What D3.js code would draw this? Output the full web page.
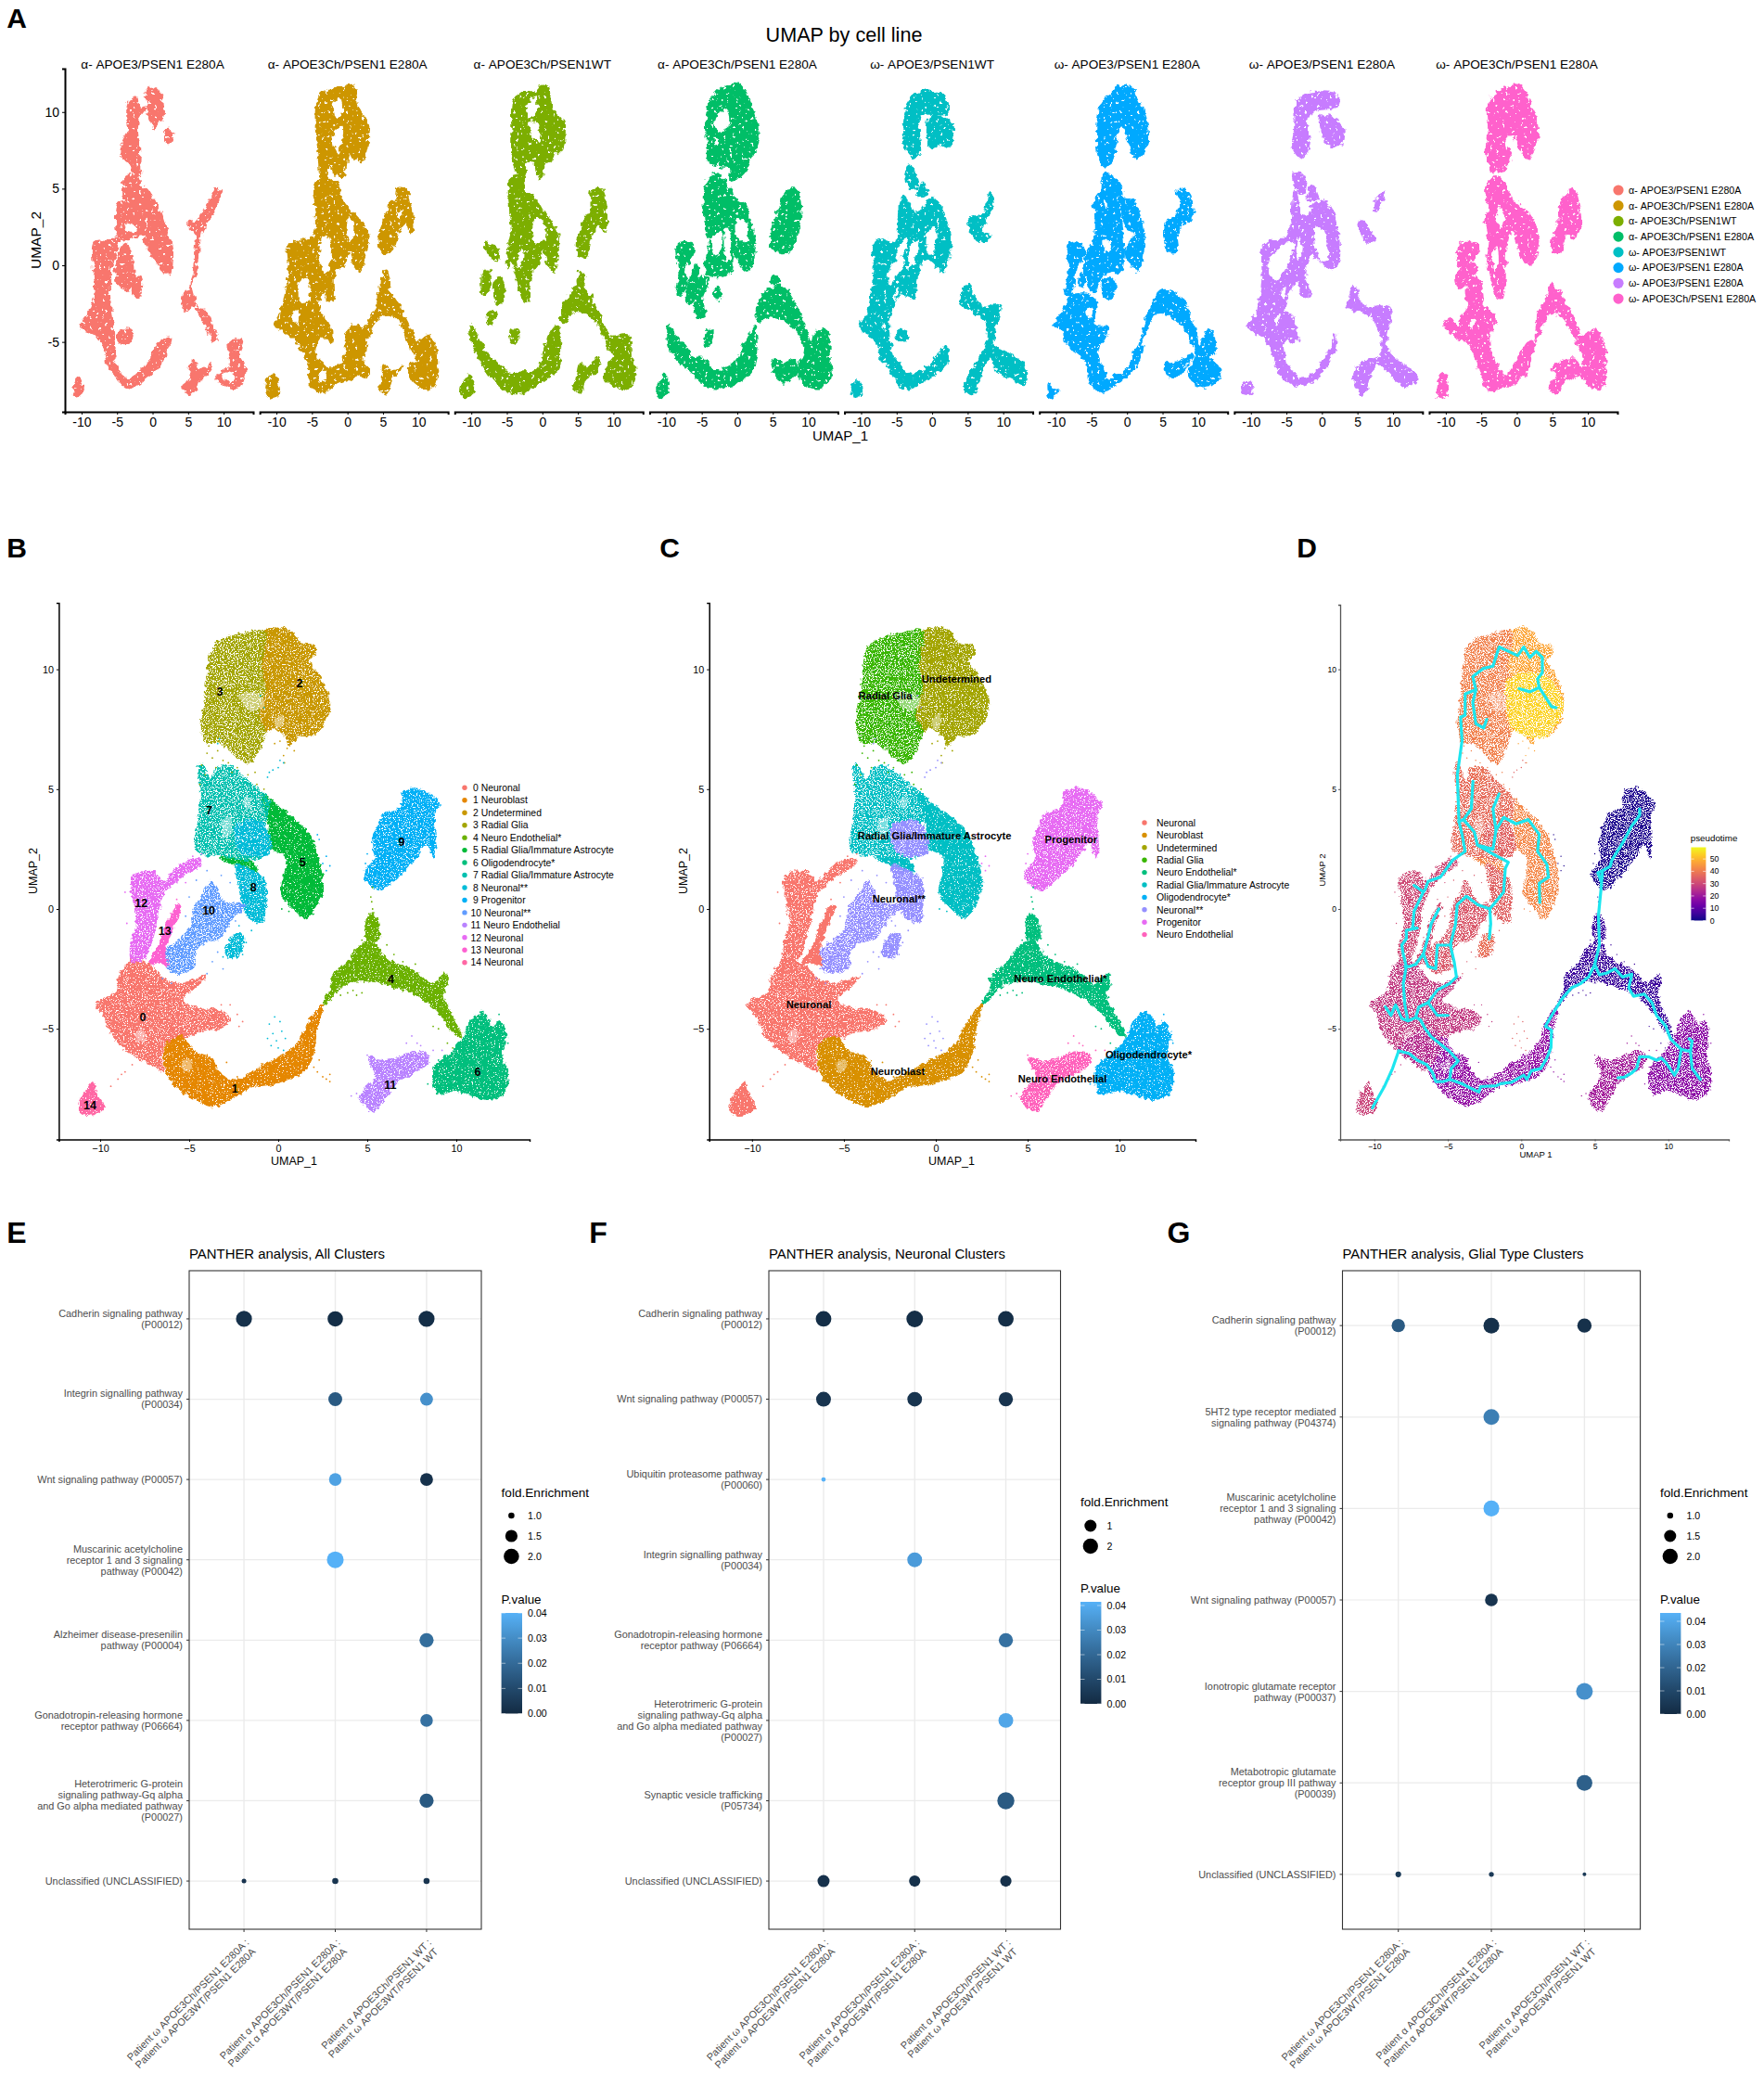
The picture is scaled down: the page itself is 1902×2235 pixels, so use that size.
<!DOCTYPE html>
<html><head><meta charset="utf-8">
<script src="https://cdn.jsdelivr.net/npm/d3@7"></script>
<style>
html,body{margin:0;padding:0;background:#fff}
svg{display:block}
text{font-family:"Liberation Sans",Arial,sans-serif}
</style></head><body>
<svg id="fig" width="1902" height="2235" viewBox="0 0 1902 2235"></svg>
<script>
/* ---------- categories ---------- */
const facetTitles=["α- APOE3/PSEN1 E280A","α- APOE3Ch/PSEN1 E280A","α- APOE3Ch/PSEN1WT","α- APOE3Ch/PSEN1 E280A","ω- APOE3/PSEN1WT","ω- APOE3/PSEN1 E280A","ω- APOE3/PSEN1 E280A","ω- APOE3Ch/PSEN1 E280A"];
const facetColors=["#F8766D","#CD9600","#7CAE00","#00BE67","#00BFC4","#00A9FF","#C77CFF","#FF61CC"];
const clusterLabels=["0 Neuronal","1 Neuroblast","2 Undetermined","3 Radial Glia","4 Neuro Endothelial*","5 Radial Glia/Immature Astrocyte","6 Oligodendrocyte*","7 Radial Glia/Immature Astrocyte","8 Neuronal**","9 Progenitor","10 Neuronal**","11 Neuro Endothelial","12 Neuronal","13 Neuronal","14 Neuronal"];
const clusterColors=["#F8766D","#E58700","#C99800","#A3A500","#6BB100","#00BA38","#00BF7D","#00C0AF","#00BCD8","#00B0F6","#619CFF","#B983FF","#E76BF3","#FD61D1","#FF67A4"];
const cellTypes=["Neuronal","Neuroblast","Undetermined","Radial Glia","Neuro Endothelial*","Radial Glia/Immature Astrocyte","Oligodendrocyte*","Neuronal**","Progenitor","Neuro Endothelial"];
const cellColors=["#F8766D","#D89000","#A3A500","#39B600","#00BF7D","#00BFC4","#00B0F6","#9590FF","#E76BF3","#FF62BC"];
const clusterCell=[0,1,2,3,4,5,6,5,7,8,7,9,0,0,0];
const clusterPseudotime=[27,18,47,41,5,42,17,37,35,1.5,33,21,30,31,29];
const clusterSpeckle=[2,1,2,3,1,1,1,3,2,2,3,2,2,0,1];

const outline3=[[-4.3,7.55],[-4.12,8.8],[-4,9.69],[-3.77,10.75],[-3.3,11.2],[-2.14,11.46],[-0.74,11.6],[-0.93,10.2],[-0.74,9.15],[-1.1,8.1],[-0.74,7.37],[-1.33,6.3],[-1.67,6.04],[-2.37,6.4],[-3.3,6.93],[-4,6.93]];
const outline2=[[-0.74,11.6],[0.19,11.73],[0.77,11.6],[1.23,11.1],[2.05,10.98],[2.05,10.6],[1.7,10.4],[2.28,9.78],[2.86,8.8],[2.86,8.26],[2.28,7.46],[1.7,7.2],[1.23,7.28],[0.65,6.84],[0.42,7.2],[-0.28,7.55],[-0.74,7.37],[-1.1,8.1],[-0.74,9.15],[-0.93,10.2]];
const outline7=[[-3.77,5.42],[-3.42,5.86],[-2.72,5.95],[-1.67,5.33],[-0.51,4.53],[-0.74,3.47],[-0.51,2.4],[-1.67,2.04],[-3.3,2.22],[-4.58,2.4],[-4.47,3.82],[-4.35,4.89],[-4.5,5.78],[-4.37,6.1]];
const outline8a=[[-2.37,3.47],[-0.98,3.64],[-0.4,2.58],[-0.74,2.22],[-2.14,2.4]];
const outline8b=[[-2.37,1.87],[-1.44,1.6],[-0.74,1.15],[-0.74,-0.09],[-0.86,-0.53],[-1.67,-0.36],[-2,0.27],[-2.26,1.15]];
const outline8c=[[-2.49,-1.07],[-2,-1.07],[-2.14,-1.87],[-2.6,-2.04],[-2.95,-1.87]];
const outline5=[[-0.98,4.8],[0.19,4.18],[1.12,3.64],[1.81,3.02],[2.28,2.04],[2.5,0.98],[2.16,0.18],[1.58,-0.41],[0.88,0],[0.19,0.62],[0.42,1.69],[0.42,2.22],[-0.51,2.58],[-0.51,3.47]];
const outline5b=[[-3.3,2.13],[-1.5,2],[-1.2,1.55],[-2.3,1.8]];
const outline12=[[-8.19,1.33],[-7,1.55],[-6.42,1.15],[-5.6,1.78],[-4.47,2.13],[-4.35,1.87],[-5.28,1.42],[-6.44,0.62],[-6.79,-0.27],[-7.02,-1.16],[-7.49,-2.04],[-8.19,-2.22],[-8.3,-1.51],[-7.95,-0.62]];
const outline13=[[-5.63,0.18],[-5.47,0.12],[-5.98,-0.89],[-6.33,-1.69],[-6.21,-2.4],[-6.67,-2.22],[-7.26,-2.31],[-6.67,-1.51],[-6.21,-0.53]];
const outline10=[[-3.77,1.16],[-3.3,0.62],[-2.95,0.27],[-1.9,0.18],[-2.6,-0.44],[-3.3,-1.24],[-4.23,-1.42],[-4.7,-1.87],[-4.7,-2.4],[-5.4,-2.67],[-6.1,-2.58],[-6.44,-1.87],[-5.63,-1.33],[-4.93,-0.8],[-4.7,0.09],[-4.23,0.62]];
const outline0=[[-8.19,-2.04],[-7.26,-2.31],[-6.33,-2.93],[-5.4,-3.11],[-4.07,-2.79],[-4.7,-3.29],[-5.4,-3.82],[-4.23,-4.18],[-3.53,-4.18],[-2.72,-4.62],[-3.3,-4.98],[-4.47,-5.15],[-5.4,-5.42],[-6.33,-5.6],[-6.56,-6.13],[-6.44,-6.75],[-7.14,-6.49],[-8.42,-5.95],[-9.35,-5.24],[-9.81,-4.44],[-10.28,-4],[-9.81,-3.73],[-9.12,-3.47],[-9,-2.93],[-8.42,-2.22]];
const outline1=[[-6.33,-5.69],[-5.4,-5.33],[-4.7,-5.95],[-3.77,-6.22],[-3.3,-6.84],[-2.49,-7.16],[-0.74,-6.49],[0.19,-6.13],[1.12,-5.6],[1.7,-4.71],[2.51,-3.96],[2.16,-5.06],[1.93,-6.13],[1.35,-6.84],[-0.28,-7.29],[-1.67,-7.46],[-2.6,-7.91],[-3.77,-8.23],[-5.16,-7.73],[-5.98,-7.2],[-6.33,-6.66]];
const outline4=[[2.51,-3.96],[2.98,-3.29],[2.98,-2.84],[3.91,-2.22],[4.37,-1.69],[5.3,-1.33],[6,-2.04],[7.63,-2.58],[8.56,-3.11],[8.9,-3.02],[9.37,-2.67],[9.49,-3.11],[9.26,-3.55],[9.72,-4.35],[10.3,-5.33],[9.84,-5.15],[9.02,-4.35],[8.09,-3.73],[6.7,-3.29],[5.3,-3.02],[4.37,-3.02],[3.44,-3.29],[2.86,-3.82]];
const outline4b=[[4.95,-1.24],[5.07,-0.27],[5.42,-0.27],[5.65,-1.24]];
const outline6=[[10.42,-5.33],[10.77,-4.71],[11.47,-4.27],[12.05,-4.89],[12.4,-4.71],[12.79,-5.24],[12.56,-6.13],[12.93,-6.84],[12.63,-7.73],[11.81,-7.95],[10.65,-7.73],[9.95,-7.55],[9.02,-7.73],[8.67,-7.02],[8.9,-6.49],[9.49,-6.13]];
const outline11=[[5.07,-6.22],[5.88,-6.34],[6.7,-6.22],[7.63,-5.95],[8.33,-6.04],[8.44,-6.4],[7.63,-6.84],[6.7,-7.2],[6,-7.91],[5.42,-8.44],[4.6,-7.91],[4.84,-7.55],[5.42,-7.02]];
const outline9=[[4.84,1.51],[5.42,2.13],[5.3,2.75],[6,4],[6.81,4.18],[7.05,4.89],[7.86,5.03],[8.79,4.62],[9.02,4.32],[8.79,4],[8.84,2.58],[8.74,2.13],[8.33,2.75],[7.63,2.04],[6.7,1.33],[5.77,0.8],[4.95,1.16]];
const outline14=[[-10.4,-7.23],[-10.23,-7.64],[-9.81,-8.26],[-10.4,-8.58],[-11.07,-8.53],[-11.19,-8.09],[-10.84,-7.64]];
const clusterOutlines=[[0,outline0],[1,outline1],[2,outline2],[3,outline3],[4,outline4],[4,outline4b],[5,outline5],[5,outline5b],[6,outline6],[7,outline7],[8,outline8a],[8,outline8b],[8,outline8c],[9,outline9],[11,outline11],[10,outline10],[12,outline12],[13,outline13],[14,outline14]];
const sharedGaps=[[[-2.14,8.97],[-1.44,9.06],[-0.74,8.62],[-1.2,8.26],[-1.9,8.44]],[[-3.2,3.6],[-2.7,3.9],[-2.6,3.2],[-3,2.9]],[[-8,-5.2],[-7.6,-5],[-7.5,-5.5],[-7.9,-5.6]],[[-5.4,-6.4],[-4.9,-6.3],[-4.9,-6.7],[-5.3,-6.8]],[[-0.2,7.9],[0.2,8.1],[0.3,7.7],[-0.1,7.5]],[[-1.9,4.6],[-1.5,4.7],[-1.6,4.2],[-1.9,4.2]]];
const strayPoints=[[3,-4.3,6],[3,-4.1,5.6],[3,-4,6.5],[3,-3.7,6.3],[3,-3.4,6.6],[3,-3.1,6.2],[3,-2.8,6.1],[3,-2.3,5.9],[3,-1.7,5.6],[3,-1.3,5.7],[3,-1.2,5.2],[3,-0.8,5],[3,-4.4,5.2],[3,-3.9,6.8],[3,-2.6,5.7],[3,-3.5,5.9],
[2,0.3,6.4],[2,0.5,6.7],[2,0.6,7],[2,0.35,6.1],[2,0.9,6.6],[2,-0.2,6.9],[2,0.1,7],
[8,-0.5,5.7],[8,-0.3,5.8],[8,0,5.9],[8,0.3,6.1],[8,-0.6,5.5],[8,0.1,6.2],[8,-3.3,7.1],[8,-3.4,6.9],[8,-1,8.9],[8,-0.8,8.4],[8,-0.5,-4.8],[8,-0.2,-4.5],[8,0.1,-4.7],[8,-0.3,-5.2],[8,0.2,-5.1],[8,-0.1,-5.5],[8,0.4,-5.4],[8,-0.4,-5.7],[8,0,-5.8],[8,0.3,-5.9],[8,-0.6,-5.4],[8,-2,-1.9],[8,-1.8,-1.4],[8,-1.5,-0.9],[8,-1.2,-0.6],[8,-2.2,-0.7],[8,-3.1,-2],
[9,2.2,3.1],[9,2.7,2.2],[9,2.9,1.8],[9,2.5,1.9],[9,2.3,2.9],[9,2.7,1.6],[9,4.9,1.9],[9,5,2.3],
[10,-5,0.5],[10,-5.2,-0.3],[10,-3.4,-1.8],[10,-3.7,-2.2],[10,-3.1,-2.5],[10,-4,-2.7],[10,-2.4,-0.5],[10,-2.7,1.1],[10,-3.2,1.4],[10,-4,1.6],[10,-4.6,1.2],[10,-6.5,-2.9],[10,-6,-3.1],[10,-1.9,0.9],[10,-3.5,-0.9],
[11,7.5,-5.3],[11,7.8,-5.6],[11,8,-5.7],[11,9.2,-5.9],[11,7.2,-5.6],[11,8.7,-5.9],[11,4.1,-7.8],[11,4.4,-7.7],[11,5,-6.1],
[6,9,-6.3],[6,8.7,-6.6],[6,8.4,-7.3],[6,12.4,-4.4],[6,12.9,-5.6],
[4,5.2,0.5],[4,5.3,0],[4,5.1,-0.2],[4,5.4,-0.9],[4,5.6,-1.2],[4,6.1,-1.5],[4,4.4,-3.6],[4,3.9,-3.5],[4,4.2,-3.4],[4,6.5,-1.9],[4,7,-2.2],[4,7.7,-2.3],[4,8.7,-4.9],[4,9,-5],[4,5.3,0.9],[4,5.25,0.3],[4,5.5,-0.6],[4,4.7,-3.5],[4,4.7,-1.3],[4,3.5,-3.6],[4,9.5,-5.6],[4,9.8,-5.8],
[1,2.2,-6.8],[1,2.5,-7],[1,2.9,-7.2],[1,2.7,-7.1],[1,2,-6.6],[1,2.9,-6.9],[1,2.3,-6.3],[1,-2.9,-6.4],[1,-2.3,-7],
[0,-9.4,-7.4],[0,-9,-7.1],[0,-8.6,-6.8],[0,-8.2,-6.5],[0,-7.8,-6.2],[0,-8.8,-6.9],[0,-2.3,-4.4],[0,-2.7,-4],[0,-2.2,-4.9],[0,-3.2,-4],[0,-2,-4.7],
[12,-4.3,2.3],[12,-4.8,2.2],[12,-5.8,1.4],[12,-5.2,1.1],[12,-8.6,0.7],[12,-8.5,-0.6],[13,-5.7,0.4],[5,-0.2,2.6],[5,0.6,-0.1],[5,0.2,0]];
const clusterCentres=[[0,-7.6,-4.5],[1,-2.44,-7.5],[2,1.2,9.43],[3,-3.28,9.08],[4,6.33,-2.91],[5,1.37,1.97],[6,11.2,-6.8],[7,-3.88,4.12],[8,-1.4,0.9],[9,6.93,2.8],[10,-3.9,-0.05],[11,6.3,-7.34],[12,-7.7,0.25],[13,-6.37,-0.9],[14,-10.57,-8.19]];
const cellCentres=[["Undetermined",1.13,9.58],["Radial Glia",-2.75,8.92],["Radial Glia/Immature Astrocyte",-0.07,3.04],["Progenitor",7.36,2.9],["Neuronal**",-2,0.44],["Neuro Endothelial*",6.78,-2.91],["Neuronal",-6.91,-3.98],["Neuroblast",-2.07,-6.79],["Oligodendrocyte*",11.58,-6.08],["Neuro Endothelial",6.89,-7.09]];

/* ---------- panel D pseudotime patches and trajectory ---------- */
const pseudoPatches=[[54,[[-0.9,9.6],[1.4,9.8],[2.8,8.8],[2.8,8.2],[1.7,7.2],[0.4,7.2],[-0.6,7.6]]],[24,[[-8.4,-5.9],[-6.5,-5],[-5.4,-5.4],[-6.4,-6.7],[-7.1,-6.5]]],[38,[[-3.4,5.9],[-2.7,5.95],[-2.2,5.4],[-3.1,5]]],[38,[[-2.49,-1.07],[-2,-1.07],[-2.14,-1.87],[-2.6,-2.04],[-2.95,-1.87]]]];
const trajectoryTail=[[-10.13,-8.3],[-9.29,-7.38],[-8.76,-6.66],[-8.34,-5.92]];
const trajectoryMain=[[-8.34,-5.92],[-7.61,-6.04],[-7.08,-6.31],[-6.45,-6.49],[-6.03,-6.84],[-5.82,-7.2],[-5.29,-7.2],[-4.87,-7.11],[-4.03,-7.29],[-3.51,-7.46],[-2.88,-7.64],[-2.77,-7.41],[-1.72,-7.38],[-1.41,-7.29],[-0.67,-7.23],[0.17,-6.93],[0.38,-7.11],[0.69,-6.75],[1.32,-6.66],[1.74,-6.22],[2.02,-5.78],[2.06,-5.06],[1.64,-4.89],[2.16,-4.35],[2.79,-3.73],[3.42,-3.29],[4.05,-3.11],[4.37,-2.93],[4.58,-2.84],[5,-2.31]];
const trajectoryStem=[[5,-2.31],[5.31,-1.51],[5.25,-0.27],[5.42,0.8],[5.53,1.6],[5.21,1.51],[5.42,1.16],[5.53,1.6],[6.05,1.78],[6.16,2.04],[6.89,2.75],[7.52,3.47],[8.05,3.91],[8.05,4.18]];
const trajectoryArch=[[5,-2.31],[5.31,-2.75],[5.84,-2.67],[6.37,-2.49],[6.89,-2.84],[7.52,-2.72],[7.31,-3.29],[7.63,-3.64],[8.36,-3.55],[8.89,-3.91],[9.2,-4.44],[9.83,-4.89],[10.15,-5.42],[10.88,-5.86],[10.67,-6.66],[10.42,-6.93]];
const trajectoryOligoA=[[10.88,-5.86],[11.51,-5.95],[11.62,-5.51],[11.41,-5.42]];
const trajectoryOligoB=[[11.51,-5.95],[11.62,-6.66],[12.18,-7.11]];
const trajectoryEndo=[[10.42,-6.93],[9.83,-6.4],[9.52,-6.22],[9.2,-6.31],[8.68,-6.17],[8.05,-6.17],[7.84,-6.66],[7.52,-6.84],[7,-7.02],[6.58,-7.05]];
const trajectoryNeuronA=[[-4.87,-7.11],[-4.77,-6.66],[-4.29,-6.34],[-4.87,-5.95],[-5.4,-5.69],[-6.13,-5.33],[-6.55,-4.98],[-6.87,-4.62],[-7.18,-4.53],[-7.71,-4.67],[-8.13,-4.57],[-8.55,-4],[-8.87,-4.44],[-9.24,-4.09]];
const trajectoryNeuronB=[[-7.71,-4.67],[-7.92,-4],[-8.03,-3.11],[-7.82,-2.4],[-8.03,-1.87],[-8.13,-1.51],[-7.82,-1.24],[-7.82,-0.89],[-7.08,-0.8],[-7.39,-0.8],[-7.29,-0.09],[-6.66,0.71],[-7.29,0.98]];
const trajectoryNeuronC=[[-7.92,-2.4],[-7.61,-2.4],[-7.18,-2.31],[-6.66,-1.87],[-6.34,-2.4],[-5.82,-2.49],[-5.71,-1.51],[-4.77,-1.51]];
const trajectoryNeuronD=[[-6.66,-1.87],[-6.34,-1.16],[-6.13,-0.62],[-5.61,0]];
const trajectoryNeuronE=[[-7.18,-4.53],[-6.97,-4.09],[-6.34,-3.91],[-5.71,-3.38],[-4.87,-3.11],[-4.41,-2.84],[-4.56,-2.22],[-4.83,-1.51],[-4.47,-0.62],[-4.36,0.18],[-3.73,0.53],[-2.98,0.18],[-2.14,0],[-2.08,-0.62],[-2.18,-1.24]];
const trajectoryNeuronF=[[-6.34,-3.91],[-5.71,-4.44],[-4.98,-4.44]];
const trajectoryGliaA=[[-2.14,0],[-1.2,0.71],[-1.09,1.69],[-0.88,1.95],[-1.72,2.22],[-2.98,2.67],[-3.19,3.2],[-3.93,3.73],[-4.24,3.64],[-4.03,3.11],[-3.82,2.4],[-4.66,2.04],[-5.5,1.33],[-6.34,1.15],[-6.55,0.8],[-6.66,0.71]];
const trajectoryGliaB=[[-3.93,3.73],[-3.4,4.18],[-3.29,5.33]];
const trajectoryTop=[[-4.24,3.64],[-4.35,5.6],[-4.03,7.02],[-4.13,8],[-3.82,8.09],[-3.82,8.97],[-3.09,9.15],[-3.3,9.69],[-2.57,10.04],[-1.93,10.13],[-1.51,10.93],[-0.25,10.57],[0.17,10.93],[0.59,10.49],[1.01,10.75],[1.43,10.49],[1.43,9.86],[1.11,9.6],[1.22,9.24],[2.06,8.44],[2.37,8.4]];
const trajectoryTopB=[[1.22,9.24],[0.59,9.06],[-0.15,9.19]];
const trajectoryTopC=[[-3.09,9.15],[-3.3,8.62],[-3.09,7.73],[-2.56,7.55],[-2.35,7.91]];
const trajectoryAstroA=[[-2.98,2.67],[-1.93,2.49],[-1.72,3.29],[-1.93,4.18],[-1.51,4.8]];
const trajectoryAstroB=[[-1.72,3.29],[-1.2,3.82],[-0.36,3.55],[0.48,3.73],[1.22,3.11],[1.11,2.4],[1.74,1.87],[1.85,1.33],[1.22,1.07],[1.26,0.27]];
const trajectories=[trajectoryTail,trajectoryMain,trajectoryStem,trajectoryArch,trajectoryOligoA,trajectoryOligoB,trajectoryEndo,trajectoryNeuronA,trajectoryNeuronB,trajectoryNeuronC,trajectoryNeuronD,trajectoryNeuronE,trajectoryNeuronF,trajectoryGliaA,trajectoryGliaB,trajectoryTop,trajectoryTopB,trajectoryTopC,trajectoryAstroA,trajectoryAstroB];

/* ---------- panel A per-facet outlines ---------- */
const facet1Blobs=[[[-3.4,10.5],[-2.5,10.9],[-1.5,10.9],[-0.6,11.5],[0.6,11.5],[1.4,10.6],[1.2,9.5],[0.3,9],[-0.4,9.6],[-0.9,10.2],[-1.6,9.9],[-2.2,9],[-1.9,7.6],[-2,6.7],[-1.8,5.9],[-2.4,6],[-3.2,6.7],[-4.3,7],[-4.2,8],[-3.3,8.8],[-3.5,9.5]],[[2.1,8.9],[2.8,8.6],[2.4,8],[1.7,8.1]],[[-3.8,5.8],[-2.2,5.8],[-2,5],[-3.3,4.2],[-3.8,4.2]],[[-4.6,4.1],[-3.4,4.2],[-1.6,5.2],[-0.3,4.6],[1,3.6],[2.1,2],[2.7,1.3],[2.4,-0.4],[1.7,-0.5],[0.2,0.5],[-1.2,1.5],[-0.8,2],[-2.3,1.9],[-3.6,1.7],[-4.7,2]],[[-8.1,1.5],[-5.5,1.6],[-4.7,2],[-5,1],[-5.9,-0.2],[-6.1,-2],[-5.7,-3.5],[-5.5,-5],[-5.3,-6],[-6,-6.2],[-7,-5.2],[-8,-4.5],[-10.2,-4],[-8.8,-3],[-8,-1.5],[-8.3,0]],[[-4.4,1],[-3.8,1.4],[-3,0.6],[-2.9,-1],[-3.6,-1.6],[-5,-1.1],[-5.1,0]],[[-2.8,-0.7],[-1.8,-0.8],[-2,-2],[-2.8,-1.8]],[[-4.8,-4.3],[-3,-4.3],[-3.2,-5],[-4.6,-5]],[[-6,-6.2],[-5.2,-6.4],[-4.4,-7.2],[-3.5,-7.4],[-1.8,-7],[-0.2,-6.1],[0.6,-5.3],[2.2,-4.7],[2,-5.5],[0.8,-6.5],[-1,-7.4],[-3.5,-8],[-5,-7.3],[-6.5,-6.3]],[[-11.2,-8.3],[-10.4,-7.4],[-9.9,-8.3],[-10.6,-8.6]],[[9.5,4.8],[8.9,4.9],[7.9,4],[6,2.8],[5.2,2.9],[5.1,2.7],[6.2,2],[6,0.9],[5.8,-0.5],[5.2,-1.6],[4.4,-1.8],[4.6,-3],[5.8,-2.4],[5.5,-1.4],[6.3,0],[6.6,1.7],[7,2.4],[8.7,3.6]],[[5.8,-2.4],[7.2,-3.6],[8.5,-4.9],[9.1,-4.8],[8.5,-4.2],[7.3,-2.9],[6.8,-2.9]],[[5.6,-6.2],[6.6,-6.8],[8.4,-6.5],[6.9,-7.5],[5.8,-8.2],[5,-8.4],[4.3,-7.9],[5.2,-7.5]],[[10.8,-5],[12.6,-4.9],[12,-5.9],[13,-6.8],[12,-8],[10,-7.8],[9,-7.3],[11,-6.5]]];
const facet1Gaps=[[[-2,11],[-0.9,10.9],[-0.8,10.5],[-1.6,10.3]],[[9.9,-7],[11.2,-7],[11.4,-7.6],[10.4,-7.5]],[[-4,2.7],[-2.5,2.6],[-2.4,2.2],[-3.6,2.2]]];
const facet2Blobs=[[[-4,10.9],[-2.8,11.4],[-1.4,11.5],[-0.3,11.7],[0.8,11.7],[1.4,10.3],[2.5,9.5],[2.9,8.3],[2.6,7.3],[1.9,6.7],[1.4,7.2],[1.1,6.8],[0.2,7.4],[-0.4,6.2],[-0.9,5.7],[-1.7,6],[-2.6,6.6],[-2.9,5.7],[-3.6,5.6],[-4,7]],[[-4.3,5.4],[-3,5.6],[-1.5,5.3],[-0.8,4.3],[0.6,3.5],[2.4,2.5],[2.9,1.6],[2.3,0.5],[1.7,-0.4],[1,0],[0.2,1.2],[-0.5,0],[-1.8,-0.3],[-2.1,-2.2],[-2.8,-2.3],[-3.2,-1.6],[-4.2,-2.4],[-3.6,-3.2],[-2.2,-4.3],[-2.4,-5],[-3.6,-4.6],[-4.6,-5.3],[-4.5,-6.5],[-5.4,-6.4],[-7,-5],[-10.1,-3.9],[-9.5,-3.3],[-8.7,-1.9],[-8.2,0],[-8.2,1.3],[-6.8,1.6],[-5.5,1.6],[-4.5,2.2]],[[-5,-6],[-3.8,-6.3],[-2.6,-6.8],[-1,-6.5],[-0.4,-6],[-0.2,-4.5],[1.2,-3.9],[2.6,-4.2],[2.2,-6],[1.8,-7],[-1.5,-7.7],[-3.5,-8.3],[-5,-7.9],[-5.4,-6.8]],[[1.9,-6.6],[2.8,-6.6],[2.7,-7.3],[2,-7.2]],[[2.4,-4.8],[3,-3.6],[4.2,-2.7],[4.5,-1.6],[5.3,-1.5],[6.6,-2.2],[7.8,-3.2],[9,-4.3],[9.7,-5],[11.4,-4.6],[12.2,-5.2],[12.5,-6.8],[12.6,-7],[12,-7.9],[10.5,-8],[8.9,-7.3],[8.8,-6.5],[9.8,-6.3],[8.5,-5],[7.5,-3.8],[6,-3.2],[4.2,-3.4],[3,-4.6]],[[5.1,-6.5],[6,-6.9],[7.8,-6.6],[6,-7.5],[5.6,-8.3],[4.7,-8.1],[5,-7.4]],[[7.2,5],[8.2,4.9],[8.9,3.6],[9,2.1],[8.2,3],[7.2,2.2],[6.2,1],[5,0.8],[4.6,1.5],[4.9,2.7],[6,3.8],[6.2,4.2],[6.9,4.2]],[[5.1,-0.4],[5.5,-0.4],[5.8,-1.4],[5,-1.5]],[[-11,-7.3],[-10.4,-7.2],[-9.7,-8.4],[-10.6,-8.6],[-11.3,-8.4]]];
const facet2Gaps=[[[-2,10.6],[-1,10.8],[-0.8,9.9],[-1.6,9.5]],[[-2,8.6],[-0.7,9.1],[-1.2,7.3],[-1.9,7.8]],[[-3.5,1.8],[-2.8,2],[-2.2,0.5],[-3.2,-0.6],[-4,0.6]],[[-6.6,-1],[-5.4,-0.9],[-5.8,-2.5],[-6.7,-2.4]],[[0.2,3.2],[1,2.5],[0.4,1.5],[-0.1,2.2]],[[-7.7,-3.2],[-7,-2.9],[-7,-3.9]],[[-4,-7.1],[-3,-6.9],[-2.9,-7.4],[-3.7,-7.5]],[[7,3.4],[7.6,3.6],[7.5,3]]];
const facet3Blobs=[[[-4,10.8],[-2.6,11.3],[-1,11.3],[-0.2,11.7],[0.6,11.7],[1.4,10.2],[2.9,9.3],[3,8.1],[2.4,7.4],[1.6,7.4],[1.1,6.8],[0.3,6.7],[0,5.8],[-0.6,5.7],[-1.1,6.8],[-2.2,6.7],[-2.8,5.7],[-4,6.6],[-4.2,8.8]],[[-4.4,5.7],[-2.9,5.8],[-2.5,4.7],[-1.5,4.6],[-0.2,3.6],[0.8,3.1],[2.1,2],[2.1,0.8],[1.6,-0.4],[0.7,0.2],[0.2,1.2],[-0.6,0.2],[-1.6,-0.5],[-2.2,-2.4],[-2.7,-2.2],[-3.5,-0.9],[-4.3,0.3],[-4.9,-0.2],[-4.7,1.3],[-4.3,2.2],[-4.5,3.5]],[[-8,1.5],[-6.2,0.9],[-6.4,0.3],[-7.6,0.8]],[[-8.3,-0.4],[-7.5,-0.4],[-7.6,-1.6],[-8.3,-1.9]],[[-6.6,-1],[-5.8,-0.8],[-5.6,-2.3],[-6.4,-2.5]],[[-7.6,-3.2],[-6.6,-3],[-7.4,-4]],[[-4.4,-4.2],[-3.7,-4.2],[-3.6,-5.1],[-4.3,-5]],[[-10,-3.9],[-9.2,-4.6],[-7.6,-5.9],[-6,-6.6],[-4.8,-7],[-3,-7],[-0.6,-6.8],[0.5,-5.2],[2.1,-4],[2.5,-5.3],[2,-6.8],[0,-7.6],[-3,-8.3],[-4.5,-8.3],[-7,-7.4],[-9,-6],[-10,-4.8]],[[2.7,-3.6],[3,-2.6],[4.3,-1.7],[4.9,-1.3],[6.3,-1.7],[7.5,-2.8],[9.5,-4.6],[11,-4.6],[12.2,-4.6],[12.4,-5.9],[13,-6.9],[12.2,-8],[10.5,-8],[8.8,-7.2],[9.4,-6.4],[10,-6],[9.2,-5.2],[7.8,-3.8],[6.1,-3.1],[4.2,-3],[3,-3.7]],[[5.4,-6.4],[6.1,-6.8],[8,-6],[7.8,-6.8],[6,-7.4],[5.4,-8.3],[4.3,-8],[4.9,-7.5]],[[7,4.9],[8,5],[8.9,3.6],[8.8,2.2],[8,2.7],[6.6,1.7],[6.1,0.6],[5.1,0.7],[4.9,1.5],[5.7,2.5],[5.9,3.2],[6.8,3.4]],[[5,-1.2],[5.4,-0.4],[5.8,-1.2]],[[-10.7,-7.3],[-10.2,-7.2],[-9.9,-8.4],[-11,-8.6],[-11.3,-8.3]]];
const facet3Gaps=[[[-2.1,10.5],[-0.9,11],[-0.9,10],[-1.8,9.6]],[[-2,9.4],[-0.6,9.2],[-0.5,8],[-1.4,8.4]],[[-1.3,2.7],[-0.5,3.1],[0.6,2],[-0.3,1.4],[-1.2,1.7]],[[-3.6,0.4],[-2.8,1.1],[-2.7,0.4],[-3.3,-0.2]]];
const facet4Blobs=[[[-2.6,11.35],[0,11.85],[1.3,11.15],[2.4,9.7],[2.96,8.5],[2.17,7.3],[0.43,5.8],[-1.1,5.6],[-0.87,6.3],[-3.9,6.7],[-4.13,7.9],[-4.13,10.1]],[[-2.96,6],[-1.3,5.1],[-0.2,4.3],[1.1,3.9],[1.96,2.5],[2.4,0.87],[1.5,-0.34],[0.2,0.27],[-0.43,0.67],[-1.3,-0.54],[-3.7,-0.65],[-4.56,-0.14],[-3.9,1.27],[-4.56,2.67],[-4.35,5.3]],[[-8.26,1.37],[-6.3,1.37],[-6.5,0.46],[-7.6,-0.34],[-7,-0.95],[-7.8,-1.85],[-8.5,-1.95],[-8,-0.55]],[[-5.9,-0.04],[-5.56,-0.14],[-6.5,-2.46],[-7,-2.36]],[[-4.8,-0.65],[-4.1,-0.95],[-5,-2.16],[-4.56,-3.37],[-5.65,-3.37],[-5.87,-1.75]],[[-2.83,-1.45],[-2.17,-1.85],[-2.83,-2.26],[-3.26,-1.85]],[[-4.13,-4.17],[-3.5,-4.27],[-4.13,-5.28],[-4.65,-5.08]],[[-9.56,-3.87],[-8.7,-4.58],[-7.4,-5.28],[-6.1,-5.99],[-5,-5.99],[-3.26,-6.9],[-0.43,-6.39],[1.3,-5],[2.4,-4.07],[2.4,-6.39],[0.87,-7.4],[-2.6,-8],[-4.56,-7.8],[-6.5,-6.9],[-8.26,-6.2],[-9.56,-5.2]],[[4.35,-1.55],[6.3,-1.35],[7.8,-2.26],[9.1,-3.37],[10.4,-4.98],[11.3,-4.27],[12.6,-4.37],[13,-6.4],[13,-7.4],[11.3,-8],[9.1,-7.6],[8.7,-6.6],[9.6,-5.4],[8.26,-4.2],[6.1,-3.5],[3.9,-3.37],[3.26,-3.67],[2.7,-3.17],[3.26,-2.26]],[[5,-6.1],[6.5,-6.4],[8,-6.2],[8.5,-6.9],[6.5,-7.6],[5.43,-7.2]],[[6.96,4.9],[8.26,5],[8.9,3.5],[8.5,2.08],[7.17,0.87],[5.43,0.87],[4.78,1.27],[5.43,3.1],[6.1,3.8]],[[4.78,-1.15],[5.2,-0.65],[5.87,-1.05],[5.2,-1.15]],[[-11.1,-7.8],[-10.2,-7.2],[-9.8,-8.2],[-10.9,-8.6]]];
const facet4Gaps=[[[-3,9.7],[-1.5,10.2],[-1.3,9],[-2.6,8.7]],[[0,3.1],[1.5,2.6],[1.1,1.5],[-0.2,2.1]],[[-3.5,1.9],[-2.2,2.1],[-2.4,0.87],[-3.26,0.67]],[[-3.2,8.3],[-2.6,8.2],[-2.8,7.8]],[[-1.7,2.4],[-1.2,2.5],[-1.1,0.3],[-1.6,0.5]]];
const facet5Blobs=[[[-3.5,10.5],[-1.57,11.3],[1.9,10.9],[1.9,9.9],[-1.57,9.9],[-1.8,8.1],[-1.8,7.3],[-2.65,7.1],[-3.96,7.9],[-3.74,9.9]],[[-0.26,9.7],[2.57,9.3],[3,8.4],[2.57,7.8],[0.6,7.9],[-0.26,7.7]],[[-3.3,6.5],[-2.65,6.2],[-2.2,5.1],[-3.1,5],[-3.74,5.7]],[[-1.57,5.3],[-0.7,4.7],[-2,4.5]],[[-4.17,4.5],[-3.1,3.9],[-2.2,3.3],[0,4.4],[1.5,3.5],[2.57,1.67],[1.5,-0.44],[0,0.26],[-1.35,0.46],[-2.2,-0.95],[-2.65,-2.06],[-4.4,-1.85],[-5.9,-3.06],[-6.13,-4.58],[-5.7,-5.8],[-7,-6.3],[-7.87,-5],[-10.26,-3.97],[-9.17,-3.37],[-8.5,-1.75],[-8.1,0.26],[-8.3,1.27],[-7,1.67],[-5,1.47],[-4.83,2.48]],[[-4.8,-4.27],[-3.5,-4.37],[-3.7,-4.88],[-4.8,-4.78]],[[-6.8,-5.8],[-5.7,-6],[-3.1,-7.2],[-0.5,-6.6],[1.5,-5.4],[1.9,-5.4],[1.9,-6.4],[0,-7.2],[-3.5,-8],[-4.6,-7.8],[-5.7,-7]],[[5,-1.35],[5.6,-1.95],[7.35,-2.76],[9.5,-2.56],[8.65,-4.4],[8.65,-5.2],[10.8,-5.8],[13,-6.6],[12.8,-7.8],[11.3,-7.4],[9.5,-7],[8,-6],[5.6,-8.4],[4.7,-8],[5.6,-6.8],[7.35,-5.6],[7.8,-4.8],[7.56,-3.57],[6,-3.07],[3.87,-2.36]],[[8.2,4.7],[8.65,3.9],[7.35,2.9],[6.9,2.1],[8.2,1.9],[7.35,1.57],[6.5,1.57],[5.17,2.9],[7.1,3.3],[7.8,4.2]],[[-11.35,-8.2],[-10.9,-7.6],[-10.26,-7.7],[-9.83,-8.3],[-10.9,-8.5]]];
const facet5Gaps=[[[-5,1],[-3.5,1.9],[-3.4,1.3],[-4.8,0.4]],[[-6.2,-0.4],[-4,0.6],[-4,0.1],[-6,-1.3]],[[-3,1.3],[-2,1.6],[-2.5,0.3],[-3.3,-0.3]],[[-0.5,2.3],[0.4,2.5],[0.17,0.67],[-0.7,0.87]],[[-7,-3.9],[-6.6,-3.7],[-6.6,-4.3]],[[-5.4,-1.9],[-4.8,-1.4],[-5.1,-2.2]]];
const facet6Blobs=[[[-3.5,10.55],[-0.26,11.8],[0.83,11.35],[2.8,9.1],[2.8,7.9],[1.26,7],[0.17,8.1],[-0.7,9.2],[-1.56,8.3],[-2,6.9],[-3.3,6.5],[-3.96,7.1],[-4.17,8.7]],[[-3.3,6],[-0.9,5.2],[-0.9,2.7],[-0.5,0.67],[-1.13,-0.54],[-2.2,-0.34],[-3.74,-0.95],[-4.8,-1.75],[-5.9,0.26],[-4.4,2.08],[-4.4,4.3],[-3.5,4.9]],[[-0.5,4.3],[0.83,4.2],[2.13,2.28],[2.13,0.46],[1.48,-0.34],[-0.26,0.87],[1.04,2.08],[0,2.48]],[[-8.1,1.37],[-6.35,1.37],[-6.13,0.67],[-7.2,-0.14],[-7.87,-1.95],[-8.5,-1.95],[-8.1,-0.14]],[[-5.7,0.16],[-5.5,-0.34],[-6.35,-1.35],[-6.8,-1.15]],[[-3.3,-1.05],[-1.78,-0.95],[-2.2,-2.06],[-3.1,-2.06]],[[-7.2,-1.85],[-4.4,-2.36],[-4.6,-3.97],[-2.65,-4.07],[-3.3,-4.78],[-4.4,-5.8],[-3.3,-6.8],[-2.87,-7.4],[-0.26,-6.9],[1.48,-5.4],[2.13,-4.6],[1.7,-6.1],[0.17,-7.1],[-3.74,-8.2],[-5.26,-7.6],[-5.5,-6.6],[-6.6,-5.8],[-8.6,-5.1],[-8.8,-4.2],[-10.26,-4],[-9.17,-3.2]],[[2.13,-4.6],[3,-3.17],[3.4,-2.57],[5,-1.65],[7.65,-2.16],[8.87,-3.37],[10.2,-5.2],[11.5,-4.2],[12.4,-5.6],[11.3,-5.9],[13,-6.7],[12.6,-7.5],[11.1,-7.9],[9.4,-7.6],[8.65,-7],[9.7,-5.9],[8,-3.97],[5.4,-3.17],[3.65,-3.27],[2.56,-4.37]],[[5.4,-6.5],[7.13,-6.3],[9.3,-5.9],[8.4,-6.5],[6.7,-7.3],[5.6,-7.1]],[[7.13,4.9],[8.4,4.7],[9.1,3.1],[8.2,2.9],[6.9,2.08],[6.9,0.97],[5.83,0.97],[5.4,2.68],[6.9,3.2],[7.56,4.1]],[[-11.1,-7.7],[-10.26,-8.2],[-9.6,-8.2],[-10.9,-8.57]]];
const facet6Gaps=[[[-3.4,4.1],[-3,4.3],[-3,3.7]],[[-3.2,1.6],[-2.3,1.4],[-2.5,0.9],[-3,1]],[[-5.6,-3],[-5,-2.8],[-5.2,-3.5]],[[-1.7,-4.8],[-1,-5],[-1.5,-5.6],[-2.6,-6.2],[-2.9,-5.6]]];
const facet7Blobs=[[[-3.35,10.75],[-1.17,11.25],[2.3,11.05],[2.1,10.35],[-1.17,10.1],[-2.26,9.4],[-1.8,8.1],[-2.26,7.2],[-2.9,7],[-4,7.7],[-3.8,8.9]],[[-0.1,9.7],[1.87,9.5],[3,8.7],[2.7,7.9],[0.8,7.9],[0.13,8.6]],[[-4,6],[-2.7,5.8],[-2.5,4.8],[-3.35,4.8]],[[-1.4,5.1],[-0.74,4.4],[-2,4.3]],[[-3.8,4.8],[-2.5,3.1],[-0.74,4.1],[1,3.9],[2.1,2.28],[2.3,0.26],[1.43,-0.24],[-0.1,0.26],[-1.4,0.77],[-2.5,-0.54],[-1.8,-1.95],[-2.7,-1.95],[-3.35,-0.95],[-4.2,-1.35],[-5.3,-2.96],[-4.65,-3.17],[-3.8,-4.58],[-5.5,-5],[-5.3,-6.4],[-6.4,-6.2],[-7.5,-5],[-10.3,-4],[-9.2,-3.2],[-8.35,-0.95],[-8.1,1.27],[-6.4,1.67],[-5,1.77],[-4.2,3.1]],[[-6.6,-6.1],[-5.1,-6.4],[-3.35,-7.4],[-1.17,-7.1],[0.78,-5.8],[1.87,-4.5],[1.87,-5.2],[0.56,-6.6],[-1.17,-7.5],[-3.8,-7.8],[-5.74,-7.2]],[[-4.6,-4.6],[-3.4,-4.7],[-3.9,-5.1],[-4.6,-4.9]],[[4.5,-1.35],[6,-2.76],[9.5,-2.76],[9,-4.8],[9.26,-5.6],[11,-6.4],[13.17,-7.2],[12.7,-7.8],[11.2,-7.8],[9.9,-7.2],[7.7,-6.4],[5.8,-8.4],[4.7,-7.8],[5.1,-6.6],[7.1,-6.1],[8.4,-5.8],[7.7,-3.8],[6.4,-3.07],[3.6,-2.76],[4,-1.95]],[[7.5,4.1],[8.8,4.8],[7.9,3.7],[7.5,3.7]],[[5.3,2.9],[6.4,2.5],[7.3,1.67],[6.65,1.47],[5.8,1.87]],[[-11.2,-8],[-10.5,-7.6],[-9.9,-7.7],[-9.9,-8.3],[-11,-8.4]]];
const facet7Gaps=[[[-5.74,1.27],[-4.2,1.57],[-4.4,0.46],[-6.4,-0.95],[-7.7,-0.14]],[[-0.96,2.38],[-0.1,2.48],[0.78,0.26],[-0.1,0.26],[-0.96,1.27]],[[-6.6,-3.5],[-6,-3.2],[-6.2,-4.1]],[[-3.3,1.8],[-2.7,1.2],[-3.2,0.4],[-3.6,1]],[[-5.7,-1.6],[-5.1,-1.3],[-5.4,-2.3]]];
const facet8Blobs=[[[-3.7,10.8],[0.1,11.7],[1.6,10.8],[2.9,9],[2.4,7.6],[1.3,7],[-0.5,8.4],[-1.65,8.4],[-1,6.8],[-3.1,6.1],[-4.2,7.2],[-3.9,9.2]],[[-2.8,5.8],[-1.35,5],[-0.5,4.2],[1.9,3.2],[3,2],[1.9,0.1],[0.7,0.5],[0.1,1.55],[-0.75,2.4],[-1.6,1.1],[-2,-2],[-2.8,-2.1],[-3.8,-0.25],[-4.2,0.2],[-3.9,1.6],[-4.4,3],[-3.8,3.8],[-4.3,5]],[[-8.1,1.35],[-6.6,1.45],[-5.4,1.35],[-6,0.55],[-8.1,-0.05]],[[-8.4,-0.5],[-6,0.1],[-5.7,-0.25],[-8.1,-1.5]],[[-6.9,-0.85],[-5.4,-0.95],[-5.1,-2.9],[-6.6,-2.7]],[[-7.2,-3],[-5.4,-2.7],[-4,-2.9],[-3.1,-3.5],[-4,-4.9],[-2.9,-6.5],[-1.5,-7.2],[1.6,-5],[2.2,-4.9],[1.5,-6.8],[-1,-7.8],[-4,-8.1],[-5,-7.2],[-5.7,-6],[-7.2,-4.9],[-8.2,-4.8],[-10.2,-3.8],[-9.3,-3.5],[-8.5,-4]],[[2.9,-3.8],[3.2,-2.8],[4.1,-2.5],[4.9,-1.2],[5.6,-1.5],[7,-2.6],[8.3,-3.9],[9.2,-4.6],[10.9,-4.2],[12,-4.9],[12.5,-6.8],[12,-8],[10.6,-7.9],[9,-7.2],[9.6,-6],[9,-5.5],[7.5,-4.1],[6,-3.2],[4.7,-3.1],[3.5,-4],[2.6,-5]],[[5,-6.8],[6.2,-6.3],[8.2,-6.2],[8.8,-7],[6.5,-7.6],[5.6,-8.3],[4.6,-8],[5.5,-7.3]],[[7,4.6],[7.8,5],[8.7,3.9],[8.8,2.4],[8,1.8],[6.9,2],[6.1,0.9],[5.1,0.9],[5.3,2],[6,2.8],[6,3.6]],[[-10.6,-7.2],[-10.1,-7.2],[-9.9,-8.4],[-11,-8.7],[-11.1,-8.2]]];
const facet8Gaps=[[[-1.8,8.2],[-1.2,8.3],[-1.5,7.5]],[[-2.6,3.9],[-1.8,3.2],[-2.2,2.4],[-2.9,3]],[[-3.3,0.8],[-2.8,1.2],[-2.6,0],[-3.1,-0.4]],[[-6.6,-3.6],[-6,-3.5],[-6.3,-4.2]]];
const facetBlobs=[facet1Blobs,facet2Blobs,facet3Blobs,facet4Blobs,facet5Blobs,facet6Blobs,facet7Blobs,facet8Blobs];
const facetGaps=[facet1Gaps,facet2Gaps,facet3Gaps,facet4Gaps,facet5Gaps,facet6Gaps,facet7Gaps,facet8Gaps];

/* ---------- PANTHER bubbles: [pathway index, comparison index, fold enrichment, p value] ---------- */
const comparisonLabels=[["Patient ω APOE3Ch/PSEN1 E280A :","Patient ω APOE3WT/PSEN1 E280A"],["Patient α APOE3Ch/PSEN1 E280A :","Patient α APOE3WT/PSEN1 E280A"],["Patient α APOE3Ch/PSEN1 WT :","Patient ω APOE3WT/PSEN1 WT"]];
const pathwaysE=[["Cadherin signaling pathway","(P00012)"],["Integrin signalling pathway","(P00034)"],["Wnt signaling pathway (P00057)"],["Muscarinic acetylcholine","receptor 1 and 3 signaling","pathway (P00042)"],["Alzheimer disease-presenilin","pathway (P00004)"],["Gonadotropin-releasing hormone","receptor pathway (P06664)"],["Heterotrimeric G-protein","signaling pathway-Gq alpha","and Go alpha mediated pathway","(P00027)"],["Unclassified (UNCLASSIFIED)"]];
const bubblesE=[[0,0,2.1,0.002],[0,1,2,0.001],[0,2,2.1,0.001],[1,1,1.75,0.015],[1,2,1.6,0.031],[2,1,1.55,0.036],[2,2,1.6,0.002],[3,1,2.25,0.04],[4,2,1.8,0.021],[5,2,1.55,0.022],[6,2,1.8,0.015],[7,0,0.9,0.003],[7,1,1,0.003],[7,2,1,0.003]];
const pathwaysF=[["Cadherin signaling pathway","(P00012)"],["Wnt signaling pathway (P00057)"],["Ubiquitin proteasome pathway","(P00060)"],["Integrin signalling pathway","(P00034)"],["Gonadotropin-releasing hormone","receptor pathway (P06664)"],["Heterotrimeric G-protein","signaling pathway-Gq alpha","and Go alpha mediated pathway","(P00027)"],["Synaptic vesicle trafficking","(P05734)"],["Unclassified (UNCLASSIFIED)"]];
const bubblesF=[[0,0,2.1,0.001],[0,1,2.3,0.001],[0,2,2.1,0.001],[1,0,1.9,0.003],[1,1,1.85,0.003],[1,2,1.7,0.003],[2,0,0.5,0.04],[3,1,1.9,0.034],[4,2,1.7,0.022],[5,2,1.9,0.037],[6,2,2.4,0.015],[7,0,1,0.002],[7,1,0.95,0.002],[7,2,0.95,0.002]];
const pathwaysG=[["Cadherin signaling pathway","(P00012)"],["5HT2 type receptor mediated","signaling pathway (P04374)"],["Muscarinic acetylcholine","receptor 1 and 3 signaling","pathway (P00042)"],["Wnt signaling pathway (P00057)"],["Ionotropic glutamate receptor","pathway (P00037)"],["Metabotropic glutamate","receptor group III pathway","(P00039)"],["Unclassified (UNCLASSIFIED)"]];
const bubblesG=[[0,0,1.7,0.015],[0,1,2.1,0.002],[0,2,1.85,0.002],[1,1,2.1,0.026],[2,1,2.1,0.04],[3,1,1.6,0.003],[4,2,2.25,0.031],[5,2,2.1,0.017],[6,0,0.97,0.005],[6,1,0.9,0.005],[6,2,0.8,0.005]];
const sizeBreaksE=[1,1.5,2], sizeBreaksF=[1,2], sizeBreaksG=[1,1.5,2];
const pBreaks=[0,0.01,0.02,0.03,0.04];
const pseudoBreaks=[0,10,20,30,40,50];
const umapTicksX=[-10,-5,0,5,10];
const umapTicksY=[-5,0,5,10];

/* ---------- drawing ---------- */
const svg=d3.select("#fig"), defs=svg.append("defs");
const sans='"Liberation Sans",Arial,sans-serif';
function txt(g,x,y,s,o={}){
  const t=g.append("text").attr("x",x).attr("y",y).text(s)
    .attr("font-size",o.size||12).attr("fill",o.fill||"#000")
    .attr("text-anchor",o.anchor||"start");
  if(o.weight)t.attr("font-weight",o.weight);
  if(o.rotate!==undefined)t.attr("transform",`rotate(${o.rotate} ${x} ${y})`);
  if(o.length)t.attr("textLength",o.length).attr("lengthAdjust","spacingAndGlyphs");
  return t;
}
const minus=d=>d<0?"−"+(-d):""+d;
/* rendering style only: roughens outlines and pierces them so filled regions read as packed scatter */
function scatterFilter(id,dFreq,dScale,mFreq,thresh){
  const f=defs.append("filter").attr("id",id).attr("x","-12%").attr("y","-12%").attr("width","124%").attr("height","124%").attr("color-interpolation-filters","sRGB");
  f.append("feTurbulence").attr("type","fractalNoise").attr("baseFrequency",dFreq).attr("numOctaves",2).attr("seed",4).attr("result","n1");
  f.append("feDisplacementMap").attr("in","SourceGraphic").attr("in2","n1").attr("scale",dScale).attr("xChannelSelector","R").attr("yChannelSelector","G").attr("result","d");
  f.append("feTurbulence").attr("type","fractalNoise").attr("baseFrequency",mFreq).attr("numOctaves",2).attr("seed",9).attr("result","n2");
  f.append("feColorMatrix").attr("in","n2").attr("type","matrix").attr("values",`0 0 0 0 0  0 0 0 0 0  0 0 0 0 0  14 0 0 0 ${-14*thresh}`).attr("result","m");
  f.append("feComposite").attr("in","d").attr("in2","m").attr("operator","in");
}
["0","1","2","3"].forEach((k,i)=>scatterFilter("fine"+k,0.22,7,0.75,[.24,.29,.34,.39][i]));
scatterFilter("airy",0.22,7,0.9,.43);
scatterFilter("coarse",0.16,8,0.3,.26);
const smooth=(x,y)=>d3.line().x(d=>x(d[0])).y(d=>y(d[1])).curve(d3.curveCatmullRomClosed.alpha(.5));
function axes(g,x,y,o){
  const bottom=y.range()[0], left=x.range()[0];
  if(o.drawX!==false){
    const ax=g.append("g").attr("transform",`translate(0,${bottom})`).call(d3.axisBottom(x).tickValues(o.ticksX).tickFormat(o.fmt).tickSize(o.tick).tickPadding(o.pad));
    ax.select(".domain").attr("stroke",o.color).attr("stroke-width",o.width);
    ax.selectAll("line").attr("stroke",o.color).attr("stroke-width",1);
    ax.selectAll("text").attr("font-size",o.font).attr("font-family",sans).attr("fill","#000");
  }
  if(o.drawY!==false){
    const ay=g.append("g").attr("transform",`translate(${left},0)`).call(d3.axisLeft(y).tickValues(o.ticksY).tickFormat(o.fmt).tickSize(o.tick).tickPadding(o.pad));
    ay.select(".domain").attr("stroke",o.color).attr("stroke-width",o.width);
    ay.selectAll("line").attr("stroke",o.color).attr("stroke-width",1);
    ay.selectAll("text").attr("font-size",o.font).attr("font-family",sans).attr("fill","#000");
  }
}

/* panel letters */
[["A",18,30,30],["B",18,601,30],["C",722,601,30],["D",1409,601,30],["E",18,1340,32],["F",645,1340,32],["G",1271,1340,32]].forEach(d=>
  txt(svg,d[1],d[2],d[0],{size:d[3],weight:"bold",anchor:"middle"}));

/* Panel A */
const A=svg.append("g");
txt(A,910,45,"UMAP by cell line",{size:21.6,anchor:"middle"});
txt(A,39,259,"UMAP_2",{size:15.5,anchor:"middle",rotate:-90}).attr("dy",5);
txt(A,906,475,"UMAP_1",{size:15,anchor:"middle"});
const yA=d3.scaleLinear().domain([-9.56,12.83]).range([444,74]);
facetTitles.forEach((title,i)=>{
  const off=i*210.14;
  const xA=d3.scaleLinear().domain([-12.34,14.16]).range([70+off,273+off]);
  const g=A.append("g");
  const line=smooth(xA,yA);
  const cloud=g.append("g").attr("filter","url(#coarse)");
  cloud.selectAll("path.b").data(facetBlobs[i]).join("path").attr("class","b").attr("d",line)
    .attr("fill",facetColors[i]).attr("stroke",facetColors[i]).attr("stroke-width",2.5).attr("stroke-linejoin","round");
  cloud.selectAll("path.h").data(facetGaps[i]).join("path").attr("class","h").attr("d",line).attr("fill","#fff");
  axes(g,xA,yA,{ticksX:umapTicksX,ticksY:[-5,0,5,10],fmt:d=>""+d,tick:3,pad:3,color:"#000",width:2,font:14,drawY:i===0});
  txt(g,xA(0),74,title,{size:13.6,anchor:"middle"});
});
facetTitles.forEach((t,i)=>{
  const y=205+i*16.72;
  A.append("circle").attr("cx",1745).attr("cy",y).attr("r",5.6).attr("fill",facetColors[i]);
  txt(A,1756,y+3.8,t,{size:10.7});
});

/* Panels B, C, D share the UMAP outlines */
function umapPanel(o){
  const g=svg.append("g");
  const x=d3.scaleLinear().domain([(o.left-o.x0)/o.ux,(o.right-o.x0)/o.ux]).range([o.left,o.right]);
  const y=d3.scaleLinear().domain([(980-o.bottom)/25.84,(980-o.top)/25.84]).range([o.bottom,o.top]);
  const line=smooth(x,y);
  g.selectAll("path.c").data(clusterOutlines).join("path").attr("class","c").attr("d",d=>line(d[1]))
    .attr("fill",d=>o.color(d[0])).attr("stroke",d=>o.color(d[0])).attr("stroke-width",1.2)
    .attr("filter",d=>o.filter(d[0]));
  g.selectAll("path.g").data(sharedGaps).join("path").attr("class","g").attr("d",line).attr("fill","#fff").attr("fill-opacity",.45).attr("filter","url(#fine2)");
  if(o.extra)o.extra(g,x,y,line);
  g.selectAll("circle.s").data(strayPoints).join("circle").attr("class","s").attr("cx",d=>x(d[1])).attr("cy",d=>y(d[2])).attr("r",o.strayR).attr("fill",d=>o.color(d[0]));
  axes(g,x,y,{ticksX:umapTicksX,ticksY:umapTicksY,fmt:minus,tick:o.tick||2.5,pad:o.pad||3,color:o.axis||"#000",width:o.axisW||1.5,font:o.font});
  return {g,x,y};
}
/* B */
const B=umapPanel({left:63.4,right:571,top:650,bottom:1228.5,x0:300,ux:19.2,font:10.8,strayR:.9,
  color:k=>clusterColors[k],filter:k=>`url(#fine${clusterSpeckle[k]})`});
clusterCentres.forEach(d=>txt(B.g,B.x(d[1]),B.y(d[2])+4.5,d[0],{size:12.5,anchor:"middle",weight:"bold"}));
txt(B.g,317,1256,"UMAP_1",{size:12.5,anchor:"middle"});
txt(B.g,36,939,"UMAP_2",{size:12.5,anchor:"middle",rotate:-90}).attr("dy",4);
clusterLabels.forEach((t,i)=>{
  const y=849.3+i*13.46;
  B.g.append("circle").attr("cx",501).attr("cy",y).attr("r",2.7).attr("fill",clusterColors[i]);
  txt(B.g,i>=10?507.6:510,y+3.7,t,{size:10.4});
});
/* C */
const C=umapPanel({left:764.7,right:1289,top:650,bottom:1228.5,x0:1009,ux:19.82,font:10.8,strayR:.9,
  color:k=>cellColors[clusterCell[k]],filter:k=>`url(#fine${clusterSpeckle[k]})`});
cellCentres.forEach(d=>txt(C.g,C.x(d[1]),C.y(d[2])+4,d[0],{size:11.2,anchor:"middle",weight:"bold"}));
txt(C.g,1026,1256,"UMAP_1",{size:12.5,anchor:"middle"});
txt(C.g,737,939,"UMAP_2",{size:12.5,anchor:"middle",rotate:-90}).attr("dy",4);
cellTypes.forEach((t,i)=>{
  const y=887+i*13.4;
  C.g.append("circle").attr("cx",1234).attr("cy",y).attr("r",2.7).attr("fill",cellColors[i]);
  txt(C.g,1247,y+3.7,t,{size:10.4});
});
/* D */
const pseudoColor=d3.scaleSequential(d3.interpolatePlasma).domain([0,59]);
const D=umapPanel({left:1445,right:1864,top:652,bottom:1228.5,x0:1640.3,ux:15.85,font:8.6,strayR:.7,tick:2,pad:2,axis:"#555",axisW:1.3,
  color:k=>pseudoColor(clusterPseudotime[k]),filter:()=>"url(#airy)",
  extra:(g,x,y,line)=>{
    g.selectAll("path.p").data(pseudoPatches).join("path").attr("class","p").attr("d",d=>line(d[1]))
      .attr("fill",d=>pseudoColor(d[0])).attr("filter","url(#airy)");
  }});
const trajLine=d3.line().x(d=>D.x(d[0])).y(d=>D.y(d[1]));
D.g.selectAll("path.t").data(trajectories).join("path").attr("class","t").attr("d",trajLine)
  .attr("fill","none").attr("stroke","#1de6ef").attr("stroke-width",3.2).attr("stroke-linejoin","round").attr("stroke-linecap","round");
txt(D.g,1656,1248,"UMAP 1",{size:9.5,anchor:"middle"});
txt(D.g,1426,938,"UMAP 2",{size:9.5,anchor:"middle",rotate:-90}).attr("dy",3);
txt(D.g,1822.7,907,"pseudotime",{size:9.8});
const barId="pseudoBar";
const lg=defs.append("linearGradient").attr("id",barId).attr("x1",0).attr("x2",0).attr("y1",1).attr("y2",0);
d3.range(0,1.001,.1).forEach(t=>lg.append("stop").attr("offset",t).attr("stop-color",d3.interpolatePlasma(t)));
const pseudoY=d3.scaleLinear().domain([0,59.5]).range([992.5,913.5]);
D.g.append("rect").attr("x",1823.4).attr("y",913.5).attr("width",16).attr("height",79).attr("fill",`url(#${barId})`);
pseudoBreaks.forEach(v=>{
  const y=pseudoY(v);
  D.g.append("line").attr("x1",1823.4).attr("x2",1826.6).attr("y1",y).attr("y2",y).attr("stroke","#fff").attr("stroke-width",.6);
  D.g.append("line").attr("x1",1836.2).attr("x2",1839.4).attr("y1",y).attr("y2",y).attr("stroke","#fff").attr("stroke-width",.6);
  txt(D.g,1843.7,y+3,v,{size:8.8});
});

/* Panels E, F, G */
const pColor=d3.scaleLinear().domain([0,0.04]).range(["#132B43","#56B1F7"]).interpolate(d3.interpolateLab);
defs.append("linearGradient").attr("id","pBar").attr("x1",0).attr("x2",0).attr("y1",1).attr("y2",0)
  .selectAll("stop").data([0,.25,.5,.75,1]).join("stop").attr("offset",d=>d).attr("stop-color",d=>pColor(d*0.04));
function dotPanel(o){
  const g=svg.append("g");
  const x=d3.scalePoint().domain(d3.range(3)).range([o.left,o.right]).padding(.6);
  const y=d3.scalePoint().domain(d3.range(o.pathways.length)).range([1370,2080]).padding(.6);
  const r=d3.scaleLinear().domain(o.sizeDomain).range(o.sizeRange);
  g.append("rect").attr("x",o.left).attr("y",1370).attr("width",o.right-o.left).attr("height",710).attr("fill","#fff");
  g.selectAll("line.gx").data(x.domain()).join("line").attr("class","gx").attr("x1",x).attr("x2",x).attr("y1",1370).attr("y2",2080).attr("stroke","#ebebeb").attr("stroke-width",1.4);
  g.selectAll("line.gy").data(y.domain()).join("line").attr("class","gy").attr("y1",y).attr("y2",y).attr("x1",o.left).attr("x2",o.right).attr("stroke","#ebebeb").attr("stroke-width",1.2);
  g.selectAll("circle.b").data(o.bubbles).join("circle").attr("class","b").attr("cx",d=>x(d[1])).attr("cy",d=>y(d[0])).attr("r",d=>r(d[2])).attr("fill",d=>pColor(d[3]));
  g.append("rect").attr("x",o.left).attr("y",1370).attr("width",o.right-o.left).attr("height",710).attr("fill","none").attr("stroke","#333").attr("stroke-width",1.1);
  txt(g,o.left,1357,o.title,{size:15.5,length:o.titleLen});
  o.pathways.forEach((lines,i)=>{
    g.append("line").attr("x1",o.left-3).attr("x2",o.left).attr("y1",y(i)).attr("y2",y(i)).attr("stroke","#333");
    const y0=y(i)-(lines.length-1)*6+3.9;
    lines.forEach((s,j)=>txt(g,o.left-7,y0+j*12,s,{size:10.9,fill:"#4d4d4d",anchor:"end"}));
  });
  comparisonLabels.forEach((lines,i)=>{
    g.append("line").attr("x1",x(i)).attr("x2",x(i)).attr("y1",2080).attr("y2",2083).attr("stroke","#333");
    const t=g.append("g").attr("transform",`translate(${x(i)+6},2095) rotate(-45)`);
    lines.forEach((s,j)=>txt(t,j?-2:0,j*12,s,{size:11,fill:"#4d4d4d",anchor:"end"}));
  });
  /* legends */
  txt(g,o.lx,o.sizeTitleY+4.5,"fold.Enrichment",{size:13.6});
  o.sizeBreaks.forEach((v,i)=>{
    g.append("circle").attr("cx",o.lx+10.8).attr("cy",o.sizeY[i]).attr("r",r(v)).attr("fill","#000");
    txt(g,o.lx+28.5,o.sizeY[i]+3.8,v===1&&o.sizeBreaks.length===3?"1.0":v===2&&o.sizeBreaks.length===3?"2.0":v,{size:10.6});
  });
  txt(g,o.lx,o.pTitleY+4.5,"P.value",{size:13.4});
  g.append("rect").attr("x",o.lx).attr("y",o.barTop).attr("width",22.4).attr("height",o.barBottom-o.barTop).attr("fill","url(#pBar)");
  const py=d3.scaleLinear().domain([0,o.pTop]).range([o.barBottom,o.barTop]);
  pBreaks.forEach(v=>{
    const yy=py(v);
    g.append("line").attr("x1",o.lx).attr("x2",o.lx+4.5).attr("y1",yy).attr("y2",yy).attr("stroke","#fff").attr("stroke-width",.5);
    g.append("line").attr("x1",o.lx+17.9).attr("x2",o.lx+22.4).attr("y1",yy).attr("y2",yy).attr("stroke","#fff").attr("stroke-width",.5);
    txt(g,o.lx+28.5,yy+3.8,v.toFixed(2),{size:10.6});
  });
}
dotPanel({left:204,right:519,title:"PANTHER analysis, All Clusters",titleLen:211,pathways:pathwaysE,bubbles:bubblesE,
  sizeDomain:[0.9,1,1.5,2,2.3],sizeRange:[2.5,3.3,6.6,8.3,9.2],sizeBreaks:sizeBreaksE,
  lx:540.6,sizeTitleY:1609,sizeY:[1634,1656,1678],pTitleY:1724,barTop:1739,barBottom:1847.5,pTop:0.04});
dotPanel({left:829,right:1143.5,title:"PANTHER analysis, Neuronal Clusters",titleLen:255,pathways:pathwaysF,bubbles:bubblesF,
  sizeDomain:[0.5,1,2,2.4],sizeRange:[2.4,6.5,8.15,9.2],sizeBreaks:sizeBreaksF,
  lx:1165,sizeTitleY:1619.6,sizeY:[1645,1667],pTitleY:1712.6,barTop:1727,barBottom:1837,pTop:0.0415});
dotPanel({left:1447.5,right:1768.6,title:"PANTHER analysis, Glial Type Clusters",titleLen:260,pathways:pathwaysG,bubbles:bubblesG,
  sizeDomain:[0.8,0.9,1,1.5,2,2.25],sizeRange:[2,2.65,3.25,6.5,8.2,9],sizeBreaks:sizeBreaksG,
  lx:1790,sizeTitleY:1609,sizeY:[1634,1656,1678],pTitleY:1724,barTop:1739,barBottom:1848,pTop:0.0436});
</script>
</body></html>
